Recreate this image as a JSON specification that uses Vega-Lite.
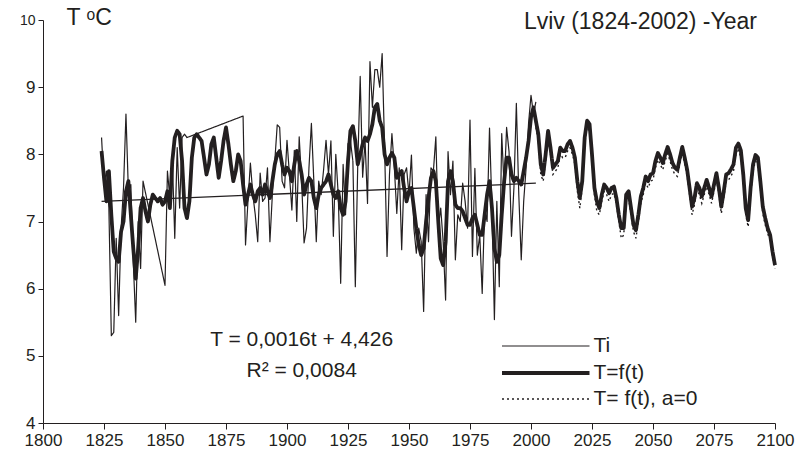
{
"$schema": "https://vega.github.io/schema/vega-lite/v6.json",
"width": 732, "height": 403,
"autosize": {"type": "none"},
"padding": {"left": 43, "top": 20, "right": 22, "bottom": 42},
"background": "white",
"title": {"text": "Lviv (1824-2002) -Year", "anchor": "end", "orient": "top", "frame": "group", "offset": -27, "baseline": "middle", "dx": -18, "dy": 12, "fontSize": 23, "font": "Liberation Sans", "fontWeight": "normal", "color": "#231f20"},
"config": {
  "view": {"stroke": null},
  "font": "Liberation Sans",
  "axis": {"domainColor": "#231f20", "tickColor": "#231f20", "labelColor": "#231f20", "titleColor": "#231f20", "grid": false, "labelFont": "Liberation Sans", "titleFont": "Liberation Sans", "titleFontWeight": "normal"},
  "legend": {"orient": "none", "legendX": 519.5, "legendY": 312.5, "symbolType": "M-6,0H1", "symbolSize": 625, "labelFontSize": 21, "labelFont": "Liberation Sans", "labelColor": "#231f20", "labelOffset": 2, "rowPadding": 2, "padding": 0, "symbolStrokeColor": "#231f20", "symbolFillColor": "transparent", "labelLimit": 300, "title": null}
},
"datasets": {
  "trend": [{"x": 1824, "v": 7.3}, {"x": 2002, "v": 7.57}],
  "notes": [{"label": "T = 0,0016t + 4,426", "x": 1906, "v": 5.24}, {"label": "R² = 0,0084", "x": 1906, "v": 4.77}],
  "ti": [
{"x":1824,"v":8.25,"s":"Ti"},{"x":1825,"v":7.55,"s":"Ti"},{"x":1826,"v":7.75,"s":"Ti"},{"x":1827,"v":7.2,"s":"Ti"},{"x":1828,"v":5.3,"s":"Ti"},{"x":1829,"v":5.35,"s":"Ti"},{"x":1830,"v":6.75,"s":"Ti"},{"x":1831,"v":5.6,"s":"Ti"},{"x":1832,"v":6.9,"s":"Ti"},{"x":1833,"v":7.5,"s":"Ti"},{"x":1834,"v":8.6,"s":"Ti"},{"x":1835,"v":7.45,"s":"Ti"},{"x":1836,"v":7.55,"s":"Ti"},{"x":1837,"v":6.4,"s":"Ti"},{"x":1838,"v":5.5,"s":"Ti"},{"x":1839,"v":7.0,"s":"Ti"},{"x":1840,"v":6.3,"s":"Ti"},{"x":1841,"v":7.6,"s":"Ti"},
{"x":1850,"v":6.05,"s":"Ti"},{"x":1851,"v":7.75,"s":"Ti"},{"x":1852,"v":7.35,"s":"Ti"},{"x":1853,"v":7.95,"s":"Ti"},{"x":1854,"v":6.75,"s":"Ti"},{"x":1855,"v":8.1,"s":"Ti"},{"x":1856,"v":7.2,"s":"Ti"},{"x":1857,"v":8.25,"s":"Ti"},{"x":1858,"v":8.3,"s":"Ti"},{"x":1859,"v":8.25,"s":"Ti"},
{"x":1882,"v":8.57,"s":"Ti"},{"x":1883,"v":6.65,"s":"Ti"},{"x":1884,"v":7.3,"s":"Ti"},{"x":1885,"v":7.87,"s":"Ti"},{"x":1886,"v":7.4,"s":"Ti"},{"x":1887,"v":7.1,"s":"Ti"},{"x":1888,"v":6.7,"s":"Ti"},{"x":1889,"v":7.72,"s":"Ti"},{"x":1890,"v":7.3,"s":"Ti"},{"x":1891,"v":7.35,"s":"Ti"},{"x":1892,"v":7.8,"s":"Ti"},{"x":1893,"v":6.7,"s":"Ti"},{"x":1894,"v":7.4,"s":"Ti"},{"x":1895,"v":7.9,"s":"Ti"},{"x":1896,"v":8.44,"s":"Ti"},{"x":1897,"v":8.4,"s":"Ti"},{"x":1898,"v":7.6,"s":"Ti"},{"x":1899,"v":7.5,"s":"Ti"},{"x":1900,"v":8.21,"s":"Ti"},{"x":1901,"v":7.7,"s":"Ti"},{"x":1902,"v":7.17,"s":"Ti"},{"x":1903,"v":8.06,"s":"Ti"},{"x":1904,"v":7.0,"s":"Ti"},{"x":1905,"v":8.26,"s":"Ti"},{"x":1906,"v":7.6,"s":"Ti"},{"x":1907,"v":6.68,"s":"Ti"},{"x":1908,"v":6.9,"s":"Ti"},{"x":1909,"v":7.8,"s":"Ti"},{"x":1910,"v":8.46,"s":"Ti"},{"x":1911,"v":7.6,"s":"Ti"},{"x":1912,"v":6.7,"s":"Ti"},{"x":1913,"v":7.6,"s":"Ti"},{"x":1914,"v":7.4,"s":"Ti"},{"x":1915,"v":7.77,"s":"Ti"},{"x":1916,"v":8.21,"s":"Ti"},{"x":1917,"v":7.7,"s":"Ti"},{"x":1918,"v":8.2,"s":"Ti"},{"x":1919,"v":6.78,"s":"Ti"},{"x":1920,"v":8.0,"s":"Ti"},{"x":1921,"v":7.4,"s":"Ti"},{"x":1922,"v":6.08,"s":"Ti"},{"x":1923,"v":7.85,"s":"Ti"},{"x":1924,"v":7.1,"s":"Ti"},{"x":1925,"v":8.16,"s":"Ti"},{"x":1926,"v":8.2,"s":"Ti"},{"x":1927,"v":7.9,"s":"Ti"},{"x":1928,"v":6.03,"s":"Ti"},{"x":1929,"v":7.85,"s":"Ti"},{"x":1930,"v":9.16,"s":"Ti"},{"x":1931,"v":7.66,"s":"Ti"},{"x":1932,"v":8.2,"s":"Ti"},{"x":1933,"v":7.27,"s":"Ti"},{"x":1934,"v":9.38,"s":"Ti"},{"x":1935,"v":8.7,"s":"Ti"},{"x":1936,"v":9.26,"s":"Ti"},{"x":1937,"v":9.26,"s":"Ti"},{"x":1938,"v":9.0,"s":"Ti"},{"x":1939,"v":9.5,"s":"Ti"},{"x":1940,"v":8.1,"s":"Ti"},{"x":1941,"v":6.48,"s":"Ti"},{"x":1942,"v":7.7,"s":"Ti"},{"x":1943,"v":8.31,"s":"Ti"},{"x":1944,"v":7.8,"s":"Ti"},{"x":1945,"v":7.12,"s":"Ti"},{"x":1946,"v":7.8,"s":"Ti"},{"x":1947,"v":6.58,"s":"Ti"},{"x":1948,"v":7.7,"s":"Ti"},{"x":1949,"v":7.8,"s":"Ti"},{"x":1950,"v":7.4,"s":"Ti"},{"x":1951,"v":7.99,"s":"Ti"},{"x":1952,"v":6.9,"s":"Ti"},{"x":1953,"v":6.53,"s":"Ti"},{"x":1954,"v":6.9,"s":"Ti"},{"x":1955,"v":6.7,"s":"Ti"},{"x":1956,"v":5.66,"s":"Ti"},{"x":1957,"v":7.4,"s":"Ti"},{"x":1958,"v":6.7,"s":"Ti"},{"x":1959,"v":7.8,"s":"Ti"},{"x":1960,"v":7.75,"s":"Ti"},{"x":1961,"v":8.26,"s":"Ti"},{"x":1962,"v":6.9,"s":"Ti"},{"x":1963,"v":7.2,"s":"Ti"},{"x":1964,"v":6.7,"s":"Ti"},{"x":1965,"v":5.83,"s":"Ti"},{"x":1966,"v":8.04,"s":"Ti"},{"x":1967,"v":7.4,"s":"Ti"},{"x":1968,"v":7.9,"s":"Ti"},{"x":1969,"v":6.43,"s":"Ti"},{"x":1970,"v":7.1,"s":"Ti"},{"x":1971,"v":7.0,"s":"Ti"},{"x":1972,"v":7.57,"s":"Ti"},{"x":1973,"v":7.3,"s":"Ti"},{"x":1974,"v":6.9,"s":"Ti"},{"x":1975,"v":8.51,"s":"Ti"},{"x":1976,"v":6.48,"s":"Ti"},{"x":1977,"v":7.79,"s":"Ti"},{"x":1978,"v":6.5,"s":"Ti"},{"x":1979,"v":6.8,"s":"Ti"},{"x":1980,"v":5.93,"s":"Ti"},{"x":1981,"v":7.2,"s":"Ti"},{"x":1982,"v":7.0,"s":"Ti"},{"x":1983,"v":8.39,"s":"Ti"},{"x":1984,"v":7.2,"s":"Ti"},{"x":1985,"v":5.54,"s":"Ti"},{"x":1986,"v":7.3,"s":"Ti"},{"x":1987,"v":6.03,"s":"Ti"},{"x":1988,"v":8.31,"s":"Ti"},{"x":1989,"v":7.5,"s":"Ti"},{"x":1990,"v":8.4,"s":"Ti"},{"x":1991,"v":8.04,"s":"Ti"},{"x":1992,"v":6.78,"s":"Ti"},{"x":1993,"v":7.5,"s":"Ti"},{"x":1994,"v":8.76,"s":"Ti"},{"x":1995,"v":7.4,"s":"Ti"},{"x":1996,"v":6.43,"s":"Ti"},{"x":1997,"v":7.3,"s":"Ti"},{"x":1998,"v":7.8,"s":"Ti"},{"x":1999,"v":8.46,"s":"Ti"},{"x":2000,"v":8.88,"s":"Ti"},{"x":2001,"v":8.6,"s":"Ti"},{"x":2002,"v":8.78,"s":"Ti"}
  ],
  "dot": [
{"x":2002,"v":8.4,"s":"T= f(t), a=0"},{"x":2003,"v":8.2,"s":"T= f(t), a=0"},{"x":2004,"v":7.7,"s":"T= f(t), a=0"},{"x":2005,"v":7.6,"s":"T= f(t), a=0"},{"x":2006,"v":7.9,"s":"T= f(t), a=0"},{"x":2007,"v":8.25,"s":"T= f(t), a=0"},{"x":2008,"v":8.0,"s":"T= f(t), a=0"},{"x":2009,"v":7.7,"s":"T= f(t), a=0"},{"x":2010,"v":7.75,"s":"T= f(t), a=0"},{"x":2011,"v":7.8,"s":"T= f(t), a=0"},{"x":2012,"v":8.0,"s":"T= f(t), a=0"},{"x":2013,"v":7.95,"s":"T= f(t), a=0"},{"x":2014,"v":7.95,"s":"T= f(t), a=0"},{"x":2015,"v":8.05,"s":"T= f(t), a=0"},{"x":2016,"v":8.1,"s":"T= f(t), a=0"},{"x":2017,"v":8.0,"s":"T= f(t), a=0"},{"x":2018,"v":7.85,"s":"T= f(t), a=0"},{"x":2019,"v":7.45,"s":"T= f(t), a=0"},{"x":2020,"v":7.2,"s":"T= f(t), a=0"},{"x":2021,"v":7.5,"s":"T= f(t), a=0"},{"x":2022,"v":8.15,"s":"T= f(t), a=0"},{"x":2023,"v":8.4,"s":"T= f(t), a=0"},{"x":2024,"v":8.35,"s":"T= f(t), a=0"},{"x":2025,"v":7.9,"s":"T= f(t), a=0"},{"x":2026,"v":7.4,"s":"T= f(t), a=0"},{"x":2027,"v":7.15,"s":"T= f(t), a=0"},{"x":2028,"v":7.1,"s":"T= f(t), a=0"},{"x":2029,"v":7.3,"s":"T= f(t), a=0"},{"x":2030,"v":7.45,"s":"T= f(t), a=0"},{"x":2031,"v":7.4,"s":"T= f(t), a=0"},{"x":2032,"v":7.3,"s":"T= f(t), a=0"},{"x":2033,"v":7.4,"s":"T= f(t), a=0"},{"x":2034,"v":7.42,"s":"T= f(t), a=0"},{"x":2035,"v":7.25,"s":"T= f(t), a=0"},{"x":2036,"v":7.0,"s":"T= f(t), a=0"},{"x":2037,"v":6.75,"s":"T= f(t), a=0"},{"x":2038,"v":6.8,"s":"T= f(t), a=0"},{"x":2039,"v":7.3,"s":"T= f(t), a=0"},{"x":2040,"v":7.35,"s":"T= f(t), a=0"},{"x":2041,"v":7.1,"s":"T= f(t), a=0"},{"x":2042,"v":6.85,"s":"T= f(t), a=0"},{"x":2043,"v":6.75,"s":"T= f(t), a=0"},{"x":2044,"v":7.0,"s":"T= f(t), a=0"},{"x":2045,"v":7.27,"s":"T= f(t), a=0"},{"x":2046,"v":7.4,"s":"T= f(t), a=0"},{"x":2047,"v":7.57,"s":"T= f(t), a=0"},{"x":2048,"v":7.5,"s":"T= f(t), a=0"},{"x":2049,"v":7.6,"s":"T= f(t), a=0"},{"x":2050,"v":7.62,"s":"T= f(t), a=0"},{"x":2051,"v":7.8,"s":"T= f(t), a=0"},{"x":2052,"v":7.92,"s":"T= f(t), a=0"},{"x":2053,"v":7.85,"s":"T= f(t), a=0"},{"x":2054,"v":7.77,"s":"T= f(t), a=0"},{"x":2055,"v":7.9,"s":"T= f(t), a=0"},{"x":2056,"v":8.01,"s":"T= f(t), a=0"},{"x":2057,"v":7.9,"s":"T= f(t), a=0"},{"x":2058,"v":7.77,"s":"T= f(t), a=0"},{"x":2059,"v":7.7,"s":"T= f(t), a=0"},{"x":2060,"v":7.67,"s":"T= f(t), a=0"},{"x":2061,"v":7.85,"s":"T= f(t), a=0"},{"x":2062,"v":8.01,"s":"T= f(t), a=0"},{"x":2063,"v":7.85,"s":"T= f(t), a=0"},{"x":2064,"v":7.67,"s":"T= f(t), a=0"},{"x":2065,"v":7.4,"s":"T= f(t), a=0"},{"x":2066,"v":7.1,"s":"T= f(t), a=0"},{"x":2067,"v":7.25,"s":"T= f(t), a=0"},{"x":2068,"v":7.47,"s":"T= f(t), a=0"},{"x":2069,"v":7.4,"s":"T= f(t), a=0"},{"x":2070,"v":7.27,"s":"T= f(t), a=0"},{"x":2071,"v":7.4,"s":"T= f(t), a=0"},{"x":2072,"v":7.52,"s":"T= f(t), a=0"},{"x":2073,"v":7.4,"s":"T= f(t), a=0"},{"x":2074,"v":7.27,"s":"T= f(t), a=0"},{"x":2075,"v":7.45,"s":"T= f(t), a=0"},{"x":2076,"v":7.62,"s":"T= f(t), a=0"},{"x":2077,"v":7.4,"s":"T= f(t), a=0"},{"x":2078,"v":7.12,"s":"T= f(t), a=0"},{"x":2079,"v":7.35,"s":"T= f(t), a=0"},{"x":2080,"v":7.6,"s":"T= f(t), a=0"},{"x":2081,"v":7.62,"s":"T= f(t), a=0"},{"x":2082,"v":7.68,"s":"T= f(t), a=0"},{"x":2083,"v":7.75,"s":"T= f(t), a=0"},{"x":2084,"v":8.0,"s":"T= f(t), a=0"},{"x":2085,"v":8.06,"s":"T= f(t), a=0"},{"x":2086,"v":7.96,"s":"T= f(t), a=0"},{"x":2087,"v":7.6,"s":"T= f(t), a=0"},{"x":2088,"v":7.1,"s":"T= f(t), a=0"},{"x":2089,"v":6.92,"s":"T= f(t), a=0"},{"x":2090,"v":7.4,"s":"T= f(t), a=0"},{"x":2091,"v":7.75,"s":"T= f(t), a=0"},{"x":2092,"v":7.9,"s":"T= f(t), a=0"},{"x":2093,"v":7.85,"s":"T= f(t), a=0"},{"x":2094,"v":7.5,"s":"T= f(t), a=0"},{"x":2095,"v":7.12,"s":"T= f(t), a=0"},{"x":2096,"v":6.95,"s":"T= f(t), a=0"},{"x":2097,"v":6.82,"s":"T= f(t), a=0"},{"x":2098,"v":6.72,"s":"T= f(t), a=0"},{"x":2099,"v":6.48,"s":"T= f(t), a=0"},{"x":2100,"v":6.3,"s":"T= f(t), a=0"}
  ],
  "fit": [
{"x":1824,"v":8.05,"s":"T=f(t)"},{"x":1825,"v":7.65,"s":"T=f(t)"},{"x":1826,"v":7.3,"s":"T=f(t)"},{"x":1827,"v":7.75,"s":"T=f(t)"},{"x":1828,"v":7.1,"s":"T=f(t)"},{"x":1829,"v":6.55,"s":"T=f(t)"},{"x":1830,"v":6.45,"s":"T=f(t)"},{"x":1831,"v":6.4,"s":"T=f(t)"},{"x":1832,"v":6.85,"s":"T=f(t)"},{"x":1833,"v":7.0,"s":"T=f(t)"},{"x":1834,"v":7.45,"s":"T=f(t)"},{"x":1835,"v":7.6,"s":"T=f(t)"},{"x":1836,"v":7.1,"s":"T=f(t)"},{"x":1837,"v":6.6,"s":"T=f(t)"},{"x":1838,"v":6.15,"s":"T=f(t)"},{"x":1839,"v":6.6,"s":"T=f(t)"},{"x":1840,"v":7.2,"s":"T=f(t)"},{"x":1841,"v":7.35,"s":"T=f(t)"},{"x":1842,"v":7.15,"s":"T=f(t)"},{"x":1843,"v":7.0,"s":"T=f(t)"},{"x":1844,"v":7.25,"s":"T=f(t)"},{"x":1845,"v":7.4,"s":"T=f(t)"},{"x":1846,"v":7.35,"s":"T=f(t)"},{"x":1847,"v":7.3,"s":"T=f(t)"},{"x":1848,"v":7.35,"s":"T=f(t)"},{"x":1849,"v":7.25,"s":"T=f(t)"},{"x":1850,"v":7.3,"s":"T=f(t)"},{"x":1851,"v":7.45,"s":"T=f(t)"},{"x":1852,"v":7.2,"s":"T=f(t)"},{"x":1853,"v":7.9,"s":"T=f(t)"},{"x":1854,"v":8.25,"s":"T=f(t)"},{"x":1855,"v":8.35,"s":"T=f(t)"},{"x":1856,"v":8.3,"s":"T=f(t)"},{"x":1857,"v":7.9,"s":"T=f(t)"},{"x":1858,"v":7.2,"s":"T=f(t)"},{"x":1859,"v":7.05,"s":"T=f(t)"},{"x":1860,"v":7.3,"s":"T=f(t)"},{"x":1861,"v":7.95,"s":"T=f(t)"},{"x":1862,"v":8.25,"s":"T=f(t)"},{"x":1863,"v":8.3,"s":"T=f(t)"},{"x":1864,"v":8.25,"s":"T=f(t)"},{"x":1865,"v":8.2,"s":"T=f(t)"},{"x":1866,"v":7.95,"s":"T=f(t)"},{"x":1867,"v":7.7,"s":"T=f(t)"},{"x":1868,"v":7.85,"s":"T=f(t)"},{"x":1869,"v":8.15,"s":"T=f(t)"},{"x":1870,"v":8.25,"s":"T=f(t)"},{"x":1871,"v":7.95,"s":"T=f(t)"},{"x":1872,"v":7.65,"s":"T=f(t)"},{"x":1873,"v":7.9,"s":"T=f(t)"},{"x":1874,"v":8.2,"s":"T=f(t)"},{"x":1875,"v":8.4,"s":"T=f(t)"},{"x":1876,"v":8.15,"s":"T=f(t)"},{"x":1877,"v":7.85,"s":"T=f(t)"},{"x":1878,"v":7.6,"s":"T=f(t)"},{"x":1879,"v":7.75,"s":"T=f(t)"},{"x":1880,"v":8.0,"s":"T=f(t)"},{"x":1881,"v":7.9,"s":"T=f(t)"},{"x":1882,"v":7.55,"s":"T=f(t)"},{"x":1883,"v":7.25,"s":"T=f(t)"},{"x":1884,"v":7.4,"s":"T=f(t)"},{"x":1885,"v":7.55,"s":"T=f(t)"},{"x":1886,"v":7.4,"s":"T=f(t)"},{"x":1887,"v":7.3,"s":"T=f(t)"},{"x":1888,"v":7.45,"s":"T=f(t)"},{"x":1889,"v":7.5,"s":"T=f(t)"},{"x":1890,"v":7.4,"s":"T=f(t)"},{"x":1891,"v":7.55,"s":"T=f(t)"},{"x":1892,"v":7.45,"s":"T=f(t)"},{"x":1893,"v":7.35,"s":"T=f(t)"},{"x":1894,"v":7.6,"s":"T=f(t)"},{"x":1895,"v":7.85,"s":"T=f(t)"},{"x":1896,"v":8.0,"s":"T=f(t)"},{"x":1897,"v":8.05,"s":"T=f(t)"},{"x":1898,"v":7.85,"s":"T=f(t)"},{"x":1899,"v":7.7,"s":"T=f(t)"},{"x":1900,"v":7.8,"s":"T=f(t)"},{"x":1901,"v":7.75,"s":"T=f(t)"},{"x":1902,"v":7.6,"s":"T=f(t)"},{"x":1903,"v":7.85,"s":"T=f(t)"},{"x":1904,"v":8.05,"s":"T=f(t)"},{"x":1905,"v":7.9,"s":"T=f(t)"},{"x":1906,"v":7.7,"s":"T=f(t)"},{"x":1907,"v":7.4,"s":"T=f(t)"},{"x":1908,"v":7.55,"s":"T=f(t)"},{"x":1909,"v":7.65,"s":"T=f(t)"},{"x":1910,"v":7.6,"s":"T=f(t)"},{"x":1911,"v":7.35,"s":"T=f(t)"},{"x":1912,"v":7.2,"s":"T=f(t)"},{"x":1913,"v":7.4,"s":"T=f(t)"},{"x":1914,"v":7.5,"s":"T=f(t)"},{"x":1915,"v":7.55,"s":"T=f(t)"},{"x":1916,"v":7.6,"s":"T=f(t)"},{"x":1917,"v":7.7,"s":"T=f(t)"},{"x":1918,"v":7.55,"s":"T=f(t)"},{"x":1919,"v":7.4,"s":"T=f(t)"},{"x":1920,"v":7.35,"s":"T=f(t)"},{"x":1921,"v":7.45,"s":"T=f(t)"},{"x":1922,"v":7.2,"s":"T=f(t)"},{"x":1923,"v":7.1,"s":"T=f(t)"},{"x":1924,"v":7.3,"s":"T=f(t)"},{"x":1925,"v":7.9,"s":"T=f(t)"},{"x":1926,"v":8.35,"s":"T=f(t)"},{"x":1927,"v":8.42,"s":"T=f(t)"},{"x":1928,"v":8.2,"s":"T=f(t)"},{"x":1929,"v":7.85,"s":"T=f(t)"},{"x":1930,"v":8.0,"s":"T=f(t)"},{"x":1931,"v":8.15,"s":"T=f(t)"},{"x":1932,"v":8.25,"s":"T=f(t)"},{"x":1933,"v":8.2,"s":"T=f(t)"},{"x":1934,"v":8.3,"s":"T=f(t)"},{"x":1935,"v":8.45,"s":"T=f(t)"},{"x":1936,"v":8.7,"s":"T=f(t)"},{"x":1937,"v":8.75,"s":"T=f(t)"},{"x":1938,"v":8.5,"s":"T=f(t)"},{"x":1939,"v":8.4,"s":"T=f(t)"},{"x":1940,"v":8.0,"s":"T=f(t)"},{"x":1941,"v":7.85,"s":"T=f(t)"},{"x":1942,"v":7.95,"s":"T=f(t)"},{"x":1943,"v":8.02,"s":"T=f(t)"},{"x":1944,"v":7.95,"s":"T=f(t)"},{"x":1945,"v":7.65,"s":"T=f(t)"},{"x":1946,"v":7.7,"s":"T=f(t)"},{"x":1947,"v":7.75,"s":"T=f(t)"},{"x":1948,"v":7.5,"s":"T=f(t)"},{"x":1949,"v":7.3,"s":"T=f(t)"},{"x":1950,"v":7.45,"s":"T=f(t)"},{"x":1951,"v":7.5,"s":"T=f(t)"},{"x":1952,"v":7.2,"s":"T=f(t)"},{"x":1953,"v":6.9,"s":"T=f(t)"},{"x":1954,"v":6.65,"s":"T=f(t)"},{"x":1955,"v":6.5,"s":"T=f(t)"},{"x":1956,"v":6.6,"s":"T=f(t)"},{"x":1957,"v":7.0,"s":"T=f(t)"},{"x":1958,"v":7.35,"s":"T=f(t)"},{"x":1959,"v":7.65,"s":"T=f(t)"},{"x":1960,"v":7.75,"s":"T=f(t)"},{"x":1961,"v":7.6,"s":"T=f(t)"},{"x":1962,"v":7.0,"s":"T=f(t)"},{"x":1963,"v":6.45,"s":"T=f(t)"},{"x":1964,"v":6.35,"s":"T=f(t)"},{"x":1965,"v":6.7,"s":"T=f(t)"},{"x":1966,"v":7.6,"s":"T=f(t)"},{"x":1967,"v":7.75,"s":"T=f(t)"},{"x":1968,"v":7.6,"s":"T=f(t)"},{"x":1969,"v":7.25,"s":"T=f(t)"},{"x":1970,"v":7.2,"s":"T=f(t)"},{"x":1971,"v":7.2,"s":"T=f(t)"},{"x":1972,"v":7.15,"s":"T=f(t)"},{"x":1973,"v":7.05,"s":"T=f(t)"},{"x":1974,"v":6.95,"s":"T=f(t)"},{"x":1975,"v":6.95,"s":"T=f(t)"},{"x":1976,"v":7.05,"s":"T=f(t)"},{"x":1977,"v":7.1,"s":"T=f(t)"},{"x":1978,"v":6.95,"s":"T=f(t)"},{"x":1979,"v":6.8,"s":"T=f(t)"},{"x":1980,"v":6.8,"s":"T=f(t)"},{"x":1981,"v":7.1,"s":"T=f(t)"},{"x":1982,"v":7.4,"s":"T=f(t)"},{"x":1983,"v":7.6,"s":"T=f(t)"},{"x":1984,"v":7.2,"s":"T=f(t)"},{"x":1985,"v":6.6,"s":"T=f(t)"},{"x":1986,"v":6.4,"s":"T=f(t)"},{"x":1987,"v":6.5,"s":"T=f(t)"},{"x":1988,"v":7.1,"s":"T=f(t)"},{"x":1989,"v":7.6,"s":"T=f(t)"},{"x":1990,"v":7.95,"s":"T=f(t)"},{"x":1991,"v":7.95,"s":"T=f(t)"},{"x":1992,"v":7.7,"s":"T=f(t)"},{"x":1993,"v":7.6,"s":"T=f(t)"},{"x":1994,"v":7.65,"s":"T=f(t)"},{"x":1995,"v":7.6,"s":"T=f(t)"},{"x":1996,"v":7.55,"s":"T=f(t)"},{"x":1997,"v":7.75,"s":"T=f(t)"},{"x":1998,"v":7.95,"s":"T=f(t)"},{"x":1999,"v":8.2,"s":"T=f(t)"},{"x":2000,"v":8.55,"s":"T=f(t)"},{"x":2001,"v":8.7,"s":"T=f(t)"},{"x":2002,"v":8.5,"s":"T=f(t)"},{"x":2003,"v":8.3,"s":"T=f(t)"},{"x":2004,"v":7.85,"s":"T=f(t)"},{"x":2005,"v":7.7,"s":"T=f(t)"},{"x":2006,"v":8.0,"s":"T=f(t)"},{"x":2007,"v":8.35,"s":"T=f(t)"},{"x":2008,"v":8.1,"s":"T=f(t)"},{"x":2009,"v":7.8,"s":"T=f(t)"},{"x":2010,"v":7.85,"s":"T=f(t)"},{"x":2011,"v":7.9,"s":"T=f(t)"},{"x":2012,"v":8.1,"s":"T=f(t)"},{"x":2013,"v":8.05,"s":"T=f(t)"},{"x":2014,"v":8.05,"s":"T=f(t)"},{"x":2015,"v":8.15,"s":"T=f(t)"},{"x":2016,"v":8.2,"s":"T=f(t)"},{"x":2017,"v":8.1,"s":"T=f(t)"},{"x":2018,"v":7.95,"s":"T=f(t)"},{"x":2019,"v":7.6,"s":"T=f(t)"},{"x":2020,"v":7.35,"s":"T=f(t)"},{"x":2021,"v":7.6,"s":"T=f(t)"},{"x":2022,"v":8.25,"s":"T=f(t)"},{"x":2023,"v":8.5,"s":"T=f(t)"},{"x":2024,"v":8.45,"s":"T=f(t)"},{"x":2025,"v":8.0,"s":"T=f(t)"},{"x":2026,"v":7.5,"s":"T=f(t)"},{"x":2027,"v":7.3,"s":"T=f(t)"},{"x":2028,"v":7.2,"s":"T=f(t)"},{"x":2029,"v":7.4,"s":"T=f(t)"},{"x":2030,"v":7.55,"s":"T=f(t)"},{"x":2031,"v":7.5,"s":"T=f(t)"},{"x":2032,"v":7.42,"s":"T=f(t)"},{"x":2033,"v":7.5,"s":"T=f(t)"},{"x":2034,"v":7.52,"s":"T=f(t)"},{"x":2035,"v":7.35,"s":"T=f(t)"},{"x":2036,"v":7.1,"s":"T=f(t)"},{"x":2037,"v":6.9,"s":"T=f(t)"},{"x":2038,"v":6.9,"s":"T=f(t)"},{"x":2039,"v":7.4,"s":"T=f(t)"},{"x":2040,"v":7.45,"s":"T=f(t)"},{"x":2041,"v":7.2,"s":"T=f(t)"},{"x":2042,"v":6.95,"s":"T=f(t)"},{"x":2043,"v":6.87,"s":"T=f(t)"},{"x":2044,"v":7.1,"s":"T=f(t)"},{"x":2045,"v":7.37,"s":"T=f(t)"},{"x":2046,"v":7.5,"s":"T=f(t)"},{"x":2047,"v":7.67,"s":"T=f(t)"},{"x":2048,"v":7.6,"s":"T=f(t)"},{"x":2049,"v":7.7,"s":"T=f(t)"},{"x":2050,"v":7.72,"s":"T=f(t)"},{"x":2051,"v":7.9,"s":"T=f(t)"},{"x":2052,"v":8.02,"s":"T=f(t)"},{"x":2053,"v":7.95,"s":"T=f(t)"},{"x":2054,"v":7.87,"s":"T=f(t)"},{"x":2055,"v":8.0,"s":"T=f(t)"},{"x":2056,"v":8.11,"s":"T=f(t)"},{"x":2057,"v":8.0,"s":"T=f(t)"},{"x":2058,"v":7.87,"s":"T=f(t)"},{"x":2059,"v":7.8,"s":"T=f(t)"},{"x":2060,"v":7.77,"s":"T=f(t)"},{"x":2061,"v":7.95,"s":"T=f(t)"},{"x":2062,"v":8.11,"s":"T=f(t)"},{"x":2063,"v":7.95,"s":"T=f(t)"},{"x":2064,"v":7.77,"s":"T=f(t)"},{"x":2065,"v":7.5,"s":"T=f(t)"},{"x":2066,"v":7.22,"s":"T=f(t)"},{"x":2067,"v":7.35,"s":"T=f(t)"},{"x":2068,"v":7.57,"s":"T=f(t)"},{"x":2069,"v":7.5,"s":"T=f(t)"},{"x":2070,"v":7.37,"s":"T=f(t)"},{"x":2071,"v":7.5,"s":"T=f(t)"},{"x":2072,"v":7.62,"s":"T=f(t)"},{"x":2073,"v":7.5,"s":"T=f(t)"},{"x":2074,"v":7.37,"s":"T=f(t)"},{"x":2075,"v":7.55,"s":"T=f(t)"},{"x":2076,"v":7.72,"s":"T=f(t)"},{"x":2077,"v":7.5,"s":"T=f(t)"},{"x":2078,"v":7.22,"s":"T=f(t)"},{"x":2079,"v":7.45,"s":"T=f(t)"},{"x":2080,"v":7.7,"s":"T=f(t)"},{"x":2081,"v":7.72,"s":"T=f(t)"},{"x":2082,"v":7.78,"s":"T=f(t)"},{"x":2083,"v":7.85,"s":"T=f(t)"},{"x":2084,"v":8.1,"s":"T=f(t)"},{"x":2085,"v":8.16,"s":"T=f(t)"},{"x":2086,"v":8.06,"s":"T=f(t)"},{"x":2087,"v":7.7,"s":"T=f(t)"},{"x":2088,"v":7.2,"s":"T=f(t)"},{"x":2089,"v":7.02,"s":"T=f(t)"},{"x":2090,"v":7.5,"s":"T=f(t)"},{"x":2091,"v":7.85,"s":"T=f(t)"},{"x":2092,"v":7.99,"s":"T=f(t)"},{"x":2093,"v":7.95,"s":"T=f(t)"},{"x":2094,"v":7.6,"s":"T=f(t)"},{"x":2095,"v":7.22,"s":"T=f(t)"},{"x":2096,"v":7.05,"s":"T=f(t)"},{"x":2097,"v":6.9,"s":"T=f(t)"},{"x":2098,"v":6.8,"s":"T=f(t)"},{"x":2099,"v":6.55,"s":"T=f(t)"},{"x":2100,"v":6.35,"s":"T=f(t)"}
  ]
},
"encoding": {
  "x": {"field": "x", "type": "quantitative", "scale": {"domain": [1800, 2100], "nice": false, "zero": false},
        "axis": {"title": null, "values": [1800,1825,1850,1875,1900,1925,1950,1975,2000,2025,2050,2075,2100], "format": "d", "tickSize": 6, "labelPadding": 3, "labelFontSize": 17, "labelFlush": false, "domainWidth": 1, "tickWidth": 1}},
  "y": {"field": "v", "type": "quantitative", "scale": {"domain": [4, 10], "nice": false, "zero": false},
        "axis": {"title": "T ᵒC", "titleAngle": 0, "titleX": 23, "titleY": -3, "titleAlign": "left", "titleBaseline": "middle", "titleFontSize": 23, "values": [4,5,6,7,8,9,10], "format": "d", "tickSize": 5, "labelPadding": 3, "labelFontSize": {"condition": {"test": "datum.value == 10", "value": 14}, "value": 17}, "domainWidth": 1, "tickWidth": 1}}
},
"layer": [
  {
    "data": {"name": "ti"},
    "mark": {"type": "line", "color": "#231f20", "strokeJoin": "round"},
    "encoding": {
      "strokeWidth": {"field": "s", "type": "nominal", "scale": {"type": "ordinal", "domain": ["Ti", "T=f(t)", "T= f(t), a=0"], "range": [1.2, 3.8, 1.4]}, "legend": {"title": null}},
      "strokeDash": {"field": "s", "type": "nominal", "scale": {"domain": ["Ti", "T=f(t)", "T= f(t), a=0"], "range": [[1, 0], [1, 0], [2, 3]]}, "legend": {"title": null}}
    }
  },
  {
    "data": {"name": "dot"},
    "mark": {"type": "line", "color": "#231f20"},
    "encoding": {
      "strokeWidth": {"field": "s", "type": "nominal", "scale": {"type": "ordinal", "domain": ["Ti", "T=f(t)", "T= f(t), a=0"], "range": [1.2, 3.8, 1.4]}, "legend": {"title": null}},
      "strokeDash": {"field": "s", "type": "nominal", "scale": {"domain": ["Ti", "T=f(t)", "T= f(t), a=0"], "range": [[1, 0], [1, 0], [2, 3]]}, "legend": {"title": null}}
    }
  },
  {
    "data": {"name": "fit"},
    "mark": {"type": "line", "color": "#231f20", "strokeJoin": "round"},
    "encoding": {
      "strokeWidth": {"field": "s", "type": "nominal", "scale": {"type": "ordinal", "domain": ["Ti", "T=f(t)", "T= f(t), a=0"], "range": [1.2, 3.8, 1.4]}, "legend": {"title": null}},
      "strokeDash": {"field": "s", "type": "nominal", "scale": {"domain": ["Ti", "T=f(t)", "T= f(t), a=0"], "range": [[1, 0], [1, 0], [2, 3]]}, "legend": {"title": null}}
    }
  },
  {
    "data": {"name": "trend"},
    "mark": {"type": "line", "color": "#231f20", "strokeWidth": 1.3}
  },
  {
    "data": {"name": "notes"},
    "mark": {"type": "text", "fontSize": 21, "font": "Liberation Sans", "color": "#231f20", "align": "center", "baseline": "middle"},
    "encoding": {"text": {"field": "label", "type": "nominal"}}
  }
]
}
